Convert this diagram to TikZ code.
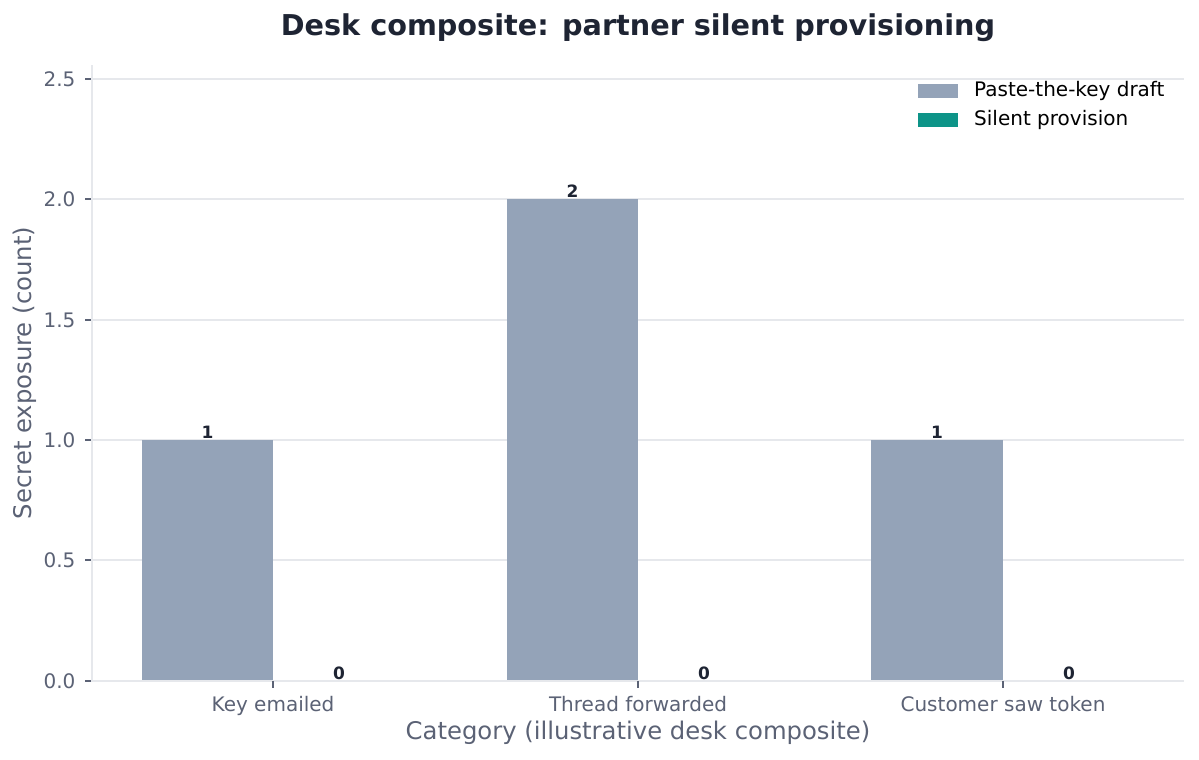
\documentclass[tikz,border=0pt]{standalone}
\usepackage{fontspec}
\setmainfont{DejaVu Sans}
\usepackage{tikz}
\usetikzlibrary{positioning}
\definecolor{barGray}{HTML}{94A3B8}
\definecolor{barTeal}{HTML}{0D9488}
\definecolor{inkDark}{HTML}{1E2433}
\definecolor{inkAxis}{HTML}{5B6275}
\definecolor{gridLine}{HTML}{E6E8EC}

\begin{document}
\begin{tikzpicture}[x=1pt, y=-1pt,
    tick/.style={font=\fontsize{20}{23}\selectfont, text=inkAxis},
    axislabel/.style={font=\fontsize{24.3}{28}\selectfont, text=inkAxis},
    value/.style={font=\bfseries\fontsize{17}{20}\selectfont, text=inkDark, anchor=south, inner sep=1pt},
    legendtext/.style={font=\fontsize{20}{23}\selectfont, anchor=west, inner sep=0pt},
]
\useasboundingbox (0,0) rectangle (1199,760);

% Grid and y ticks
\foreach \v/\yy in {0.0/681,0.5/560,1.0/440,1.5/320,2.0/199,2.5/79} {
    \draw[gridLine, line width=1.4pt] (92,\yy) -- (1184,\yy);
    \draw[inkAxis, line width=1.1pt] (85,\yy) -- (92,\yy);
    \node[tick, anchor=east] at (79,\yy) {\v};
}

% Bars
\fill[barGray] (142,681) rectangle (273,440);
\fill[barGray] (507,681) rectangle (638,199);
\fill[barGray] (871,681) rectangle (1003,440);

% Value labels
\node[value] (v1) at (207.5,440) {1};
\node[value] (v2) at (572.5,199) {2};
\node[value] (v3) at (937,440) {1};
\node[value] (z1) at (339,681) {0};
\node[value] (z2) at (704,681) {0};
\node[value] (z3) at (1069,681) {0};

% Axes
\draw[gridLine, line width=1.4pt] (92,65) -- (92,681) -- (1184,681);

% x ticks
\foreach \xx/\lab in {273/Key emailed,638/Thread forwarded,1003/Customer saw token} {
    \draw[inkAxis, line width=1.1pt] (\xx,681) -- (\xx,688);
    \node[tick, anchor=north] at (\xx,693) {\lab};
}

% Labels
\node[font=\bfseries\fontsize{28.7}{33}\selectfont, text=inkDark] (title) at (638,28) {Desk composite: partner silent provisioning};
\node[axislabel] (xlab) at (638,733) {Category (illustrative desk composite)};
\node[axislabel, rotate=90] (ylab) at (25,373) {Secret exposure (count)};

% Legend
\fill[barGray] (918,84) rectangle (958,98);
\fill[barTeal] (918,113) rectangle (958,127);
\node[legendtext] (lg1) at (974,91) {Paste-the-key draft};
\node[legendtext] (lg2) at (974,120) {Silent provision};

\end{tikzpicture}
\end{document}
